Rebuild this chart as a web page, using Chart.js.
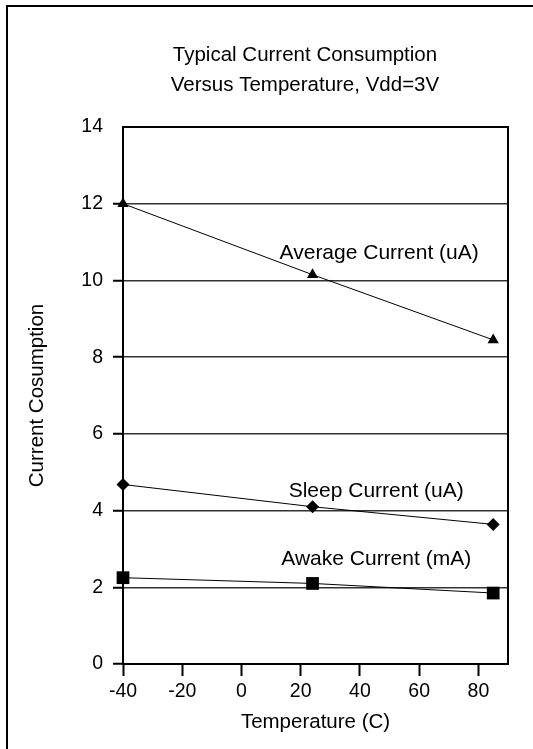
<!DOCTYPE html>
<html>
<head>
<meta charset="utf-8">
<script src="https://cdn.jsdelivr.net/npm/chart.js@4/dist/chart.umd.min.js"></script>
<style>
  html, body { margin: 0; padding: 0; background: #fff; }
  #wrap { width: 533px; height: 749px; }
</style>
</head>
<body>
<div id="wrap"><canvas id="chart" width="533" height="749"></canvas></div>
<script>
// temperatures (C) where the samples were taken
const temps = [-40, 24, 85];

// current consumption readings
const averageCurrent = [12.0, 10.15, 8.45];
const sleepCurrent = [4.68, 4.1, 3.64];
const awakeCurrent = [2.25, 2.1, 1.85];

const seriesNames = ['Average Current (uA)', 'Sleep Current (uA)', 'Awake Current (mA)'];

const xTicks = [-40, -20, 0, 20, 40, 60, 80];
const yTicks = [0, 2, 4, 6, 8, 10, 12, 14];

const titleLines = ['Typical Current Consumption', 'Versus Temperature, Vdd=3V'];

const FONT = "'Liberation Sans', Arial, sans-serif";

function pts(values) {
    return values.map((v, i) => ({ x: temps[i], y: v }));
}

// where each series name sits, in data units
const nameAnchors = [
    { x: 46.5, y: 10.7 },
    { x: 45.5, y: 4.5 },
    { x: 45.5, y: 2.73 }
];

const decorPlugin = {
    id: 'decor',
    afterDraw(chart) {
        const ctx = chart.ctx;
        const a = chart.chartArea;
        ctx.save();

        // outer frame (only left and top edges fall inside the picture)
        ctx.strokeStyle = '#000';
        ctx.lineWidth = 2;
        ctx.beginPath();
        ctx.moveTo(7, 760);
        ctx.lineTo(7, 6);
        ctx.lineTo(540, 6);
        ctx.stroke();

        // top and right edges of the plot area
        ctx.beginPath();
        ctx.moveTo(a.left, a.top);
        ctx.lineTo(a.right, a.top);
        ctx.lineTo(a.right, a.bottom);
        ctx.stroke();

        // title
        ctx.fillStyle = '#000';
        ctx.font = '20.5px ' + FONT;
        ctx.textAlign = 'center';
        ctx.textBaseline = 'alphabetic';
        ctx.fillText(titleLines[0], 305, 61);
        ctx.fillText(titleLines[1], 305, 91);

        // series names
        const xs = chart.scales.x, ys = chart.scales.y;
        ctx.font = '21px ' + FONT;
        ctx.textBaseline = 'middle';
        seriesNames.forEach((name, i) => {
            ctx.fillText(name, xs.getPixelForValue(nameAnchors[i].x), ys.getPixelForValue(nameAnchors[i].y));
        });
        ctx.restore();
    }
};

const series = [averageCurrent, sleepCurrent, awakeCurrent];
const markers = ['triangle', 'rectRot', 'rect'];
const markerSize = [6.5, 6.5, 9];

new Chart(document.getElementById('chart'), {
    type: 'line',
    data: {
        datasets: series.map((s, i) => ({
            label: seriesNames[i],
            data: pts(s),
            borderColor: '#000',
            borderWidth: 1,
            backgroundColor: '#000',
            pointStyle: markers[i],
            pointRadius: markerSize[i],
            pointBackgroundColor: '#000',
            pointBorderWidth: 0,
            tension: 0,
            clip: false
        }))
    },
    options: {
        responsive: false,
        animation: false,
        layout: { padding: { left: 0, right: 25, top: 127, bottom: 0 } },
        plugins: {
            legend: { display: false },
            tooltip: { enabled: false }
        },
        scales: {
            x: {
                type: 'linear',
                min: -40,
                max: 90,
                afterFit: (s) => { s.height = 85; },
                afterBuildTicks: (s) => { s.ticks = xTicks.map(v => ({ value: v })); },
                grid: {
                    drawOnChartArea: false,
                    drawTicks: true,
                    tickLength: 12,
                    tickWidth: 2,
                    tickColor: '#000'
                },
                border: { display: true, color: '#000', width: 2 },
                ticks: {
                    color: '#000',
                    padding: 4,
                    maxRotation: 0,
                    font: { family: FONT, size: 19.5 }
                },
                title: {
                    display: true,
                    text: 'Temperature (C)',
                    color: '#000',
                    font: { family: FONT, size: 20.5 },
                    padding: { top: 0, bottom: 14 }
                }
            },
            y: {
                min: 0,
                max: 14,
                afterFit: (s) => { s.width = 123; },
                afterBuildTicks: (s) => { s.ticks = yTicks.map(v => ({ value: v })); },
                grid: {
                    color: (c) => (c.tick && c.tick.value === 14) ? 'rgba(0,0,0,0)' : '#333',
                    lineWidth: 1.5,
                    tickLength: 10,
                    tickWidth: 2,
                    tickColor: (c) => (c.tick && c.tick.value === 14) ? 'rgba(0,0,0,0)' : '#000'
                },
                border: { display: true, color: '#000', width: 2 },
                ticks: {
                    color: '#000',
                    padding: 10,
                    font: { family: FONT, size: 19.5 }
                },
                title: {
                    display: true,
                    text: 'Current Cosumption',
                    color: '#000',
                    font: { family: FONT, size: 20.5 },
                    padding: { top: 25, bottom: 0 }
                }
            }
        }
    },
    plugins: [decorPlugin]
});
</script>
</body>
</html>
